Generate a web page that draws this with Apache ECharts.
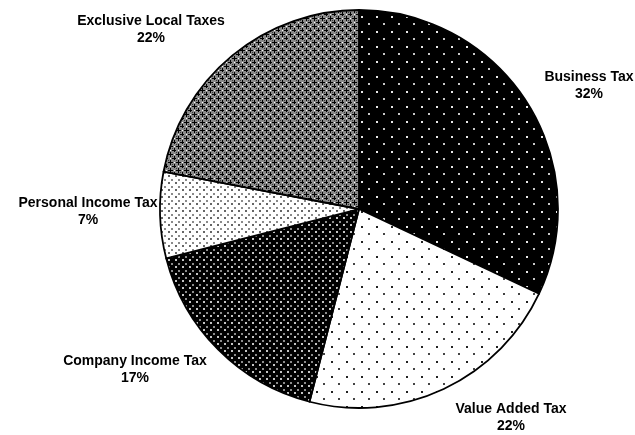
<!DOCTYPE html>
<html>
<head>
<meta charset="utf-8">
<title>Tax revenue composition</title>
<script src="https://cdn.jsdelivr.net/npm/echarts@6/dist/echarts.min.js"></script>
<style>
  html, body { margin: 0; padding: 0; background: #fff; }
  #chart { width: 635px; height: 435px; }
</style>
</head>
<body>
<div id="chart"></div>
<script>
// Revenue shares (percent), clockwise from 12 o'clock
const categories = ['Business Tax', 'Value Added Tax', 'Company Income Tax', 'Personal Income Tax', 'Exclusive Local Taxes'];
const shares = [32, 22, 17, 7, 22];

// Label anchor points (centre of each two-line label block)
const labelAnchors = [[589, 86], [511, 418], [135, 370], [88, 212], [151, 30]];

function tile(w, h, bg, draw) {
  const c = document.createElement('canvas');
  c.width = w; c.height = h;
  const ctx = c.getContext('2d');
  ctx.fillStyle = bg;
  ctx.fillRect(0, 0, w, h);
  draw(ctx);
  return { image: c, repeat: 'repeat' };
}

// Fill patterns for each slice
const patterns = [
  // sparse white dots on black
  tile(15, 15, '#000', ctx => {
    ctx.fillStyle = '#e8e8e8';
    ctx.fillRect(1, 1, 2, 2);
    ctx.fillStyle = '#c8c8c8';
    ctx.fillRect(8, 8, 2, 2);
  }),
  // sparse black dots on white
  tile(15, 15, '#fff', ctx => {
    ctx.fillStyle = '#222';
    ctx.fillRect(1, 1, 2, 2);
    ctx.fillStyle = '#444';
    ctx.fillRect(8, 8, 2, 2);
  }),
  // dense light dots on black
  tile(7, 7, '#000', ctx => {
    ctx.fillStyle = '#c4c4c4';
    ctx.fillRect(0, 0, 2, 2);
    ctx.fillStyle = '#8c8c8c';
    ctx.fillRect(3, 4, 2, 2);
  }),
  // dense grey dots on white
  tile(7, 7, '#fff', ctx => {
    ctx.fillStyle = '#666';
    ctx.fillRect(0, 0, 2, 2);
    ctx.fillStyle = '#8a8a8a';
    ctx.fillRect(3, 4, 2, 2);
  }),
  // grey lattice with black crosses and white specks
  tile(8, 8, '#8a8a8a', ctx => {
    ctx.fillStyle = '#000';
    ctx.fillRect(0, 2, 5, 1);
    ctx.fillRect(2, 0, 1, 5);
    ctx.fillRect(4, 6, 5, 1);
    ctx.fillRect(6, 4, 1, 5);
    ctx.fillRect(4, 6, 1, 1);
    ctx.fillStyle = '#fff';
    ctx.fillRect(6, 2, 1, 1);
    ctx.fillRect(2, 6, 1, 1);
    ctx.fillStyle = '#3a3a3a';
    ctx.fillRect(4, 4, 1, 1);
    ctx.fillRect(0, 0, 1, 1);
  })
];

const chart = echarts.init(document.getElementById('chart'), null, { renderer: 'canvas' });

chart.setOption({
  backgroundColor: '#fff',
  animation: false,
  series: [{
    type: 'pie',
    center: [359, 209],
    radius: 199,
    startAngle: 90,
    clockwise: true,
    avoidLabelOverlap: false,
    itemStyle: { borderColor: '#000', borderWidth: 1.8 },
    label: {
      show: true,
      position: 'outside',
      formatter: p => p.name + '\n' + p.value + '%',
      fontFamily: '"Liberation Sans", Arial, sans-serif',
      fontWeight: 'bold',
      fontSize: 14,
      lineHeight: 17,
      color: '#000',
      align: 'center'
    },
    labelLine: { show: false },
    labelLayout: p => ({
      x: labelAnchors[p.dataIndex][0],
      y: labelAnchors[p.dataIndex][1],
      align: 'center',
      verticalAlign: 'middle'
    }),
    emphasis: { disabled: true },
    data: categories.map((name, i) => ({
      name: name,
      value: shares[i],
      itemStyle: { color: patterns[i] }
    }))
  }]
});
</script>
</body>
</html>
